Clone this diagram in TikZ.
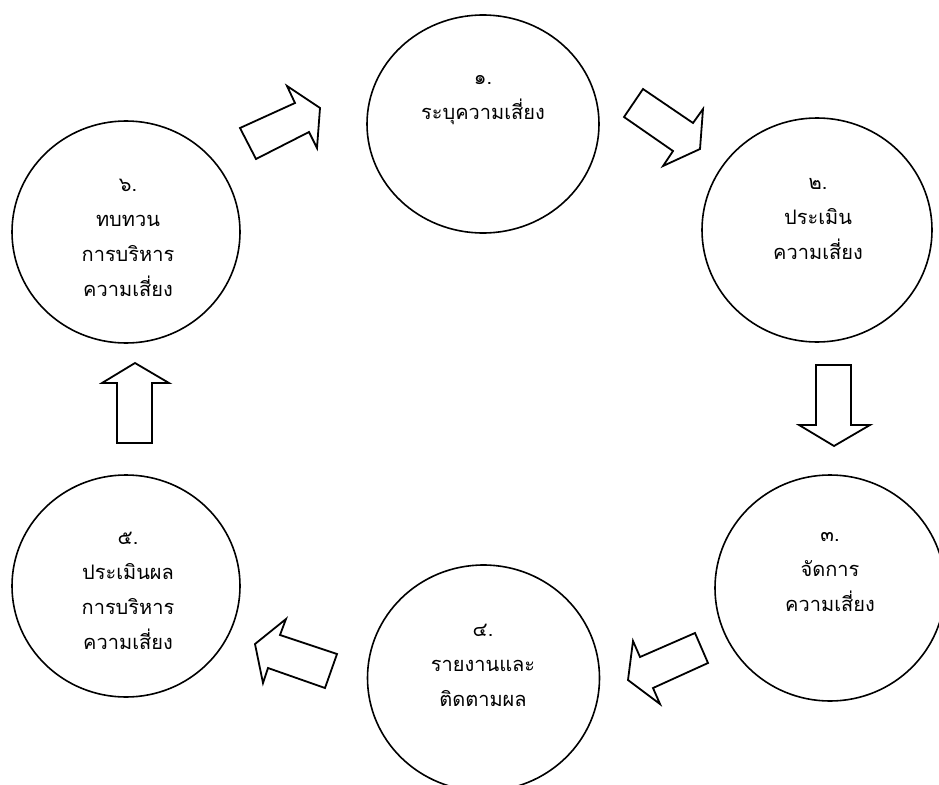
\documentclass[tikz,border=0pt]{standalone}
\usepackage{fontspec}
\newfontfamily\thaifont[Script=Thai]{Loma}
\usetikzlibrary{shapes.geometric}
\tikzset{
  stage/.style={ellipse, draw, line width=1.6pt, inner sep=0pt, minimum width=232pt, minimum height=222pt},
  stagetext/.style={anchor=north, align=center, inner sep=0pt, font=\thaifont\fontsize{20}{35}\selectfont},
  blockarrow/.style={draw, line width=1.8pt, line join=miter, fill=white}
}
\begin{document}
\begin{tikzpicture}[x=1pt,y=-1pt]
\useasboundingbox (0,0) rectangle (939,784);
% stages
\node[stage, minimum height=218pt] (c1) at (483,124) {};
\node[stage, minimum width=230pt, minimum height=224pt] (c2) at (817,230) {};
\node[stage, minimum width=230pt, minimum height=226pt] (c3) at (830,588) {};
\node[stage, minimum height=226pt] (c4) at (483.5,678) {};
\node[stage, minimum width=228pt] (c5) at (126,586) {};
\node[stage, minimum width=228pt] (c6) at (126,232) {};
% texts
\node[stagetext] (t1) at (483,75) {๑.\\ระบุความเสี่ยง};
\node[stagetext] (t2) at (818,178) {๒.\\ประเมิน\\ความเสี่ยง};
\node[stagetext] (t3) at (830,532) {๓.\\จัดการ\\ความเสี่ยง};
\node[stagetext] (t4) at (483,624) {๔.\\รายงานและ\\ติดตามผล};
\node[stagetext] (t5) at (128,532) {๕.\\ประเมินผล\\การบริหาร\\ความเสี่ยง};
\node[stagetext] (t6) at (128,179) {๖.\\ทบทวน\\การบริหาร\\ความเสี่ยง};
% block arrows
\draw[blockarrow] (240,128) -- (295,103) -- (287,86) -- (320,108) -- (317,148) -- (309,132) -- (256,159) -- cycle;
\draw[blockarrow] (643,89) -- (693,123) -- (703,109) -- (700,149) -- (663,166) -- (673,151) -- (624,117) -- cycle;
\draw[blockarrow] (816,365) -- (851,365) -- (851,425) -- (870,425) -- (834,446) -- (799,425) -- (816,425) -- cycle;
\draw[blockarrow] (695,633) -- (708,663) -- (653,688) -- (660,704) -- (628,680) -- (633,641) -- (640,657) -- cycle;
\draw[blockarrow] (337,654) -- (325,688) -- (268,668) -- (263,683) -- (255,644) -- (286,619) -- (280,635) -- cycle;
\draw[blockarrow] (117,443) -- (152,443) -- (152,383) -- (169,383) -- (135,363) -- (102,383) -- (117,383) -- cycle;
\end{tikzpicture}
\end{document}
